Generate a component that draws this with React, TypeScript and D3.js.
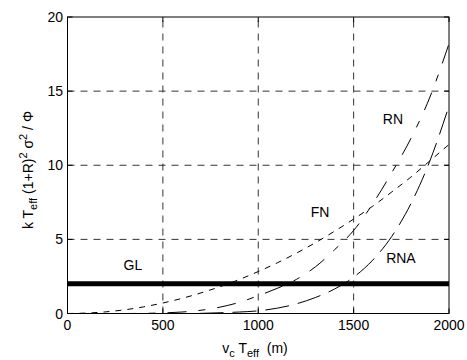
import React from "react";
import * as d3 from "d3";

const W = 467;
const H = 360;

const xTicks = [0, 500, 1000, 1500, 2000];
const yTicks = [0, 5, 10, 15, 20];
const xGrid = [500, 1000, 1500];
const yGrid = [5, 10, 15];

const vcTeff = [0, 100, 200, 300, 400, 500, 600, 700, 800, 900, 1000, 1100, 1200, 1300, 1400, 1500, 1600, 1700, 1800, 1900, 2000];
const fnValues = [0, 0.03, 0.11, 0.25, 0.45, 0.71, 1.02, 1.39, 1.81, 2.29, 2.83, 3.42, 4.07, 4.78, 5.55, 6.37, 7.24, 8.2, 9.2, 10.3, 11.4];
const rnValues = [0, 0, 0, 0, 0.01, 0.04, 0.1, 0.22, 0.43, 0.75, 1.2, 1.7, 2.3, 3.15, 4.3, 5.6, 7.4, 9.5, 11.8, 14.6, 18.2];
const rnaValues = [0, 0, 0, 0, 0, 0, 0, 0.01, 0.05, 0.1, 0.18, 0.36, 0.65, 1.08, 1.65, 2.45, 3.6, 5.2, 7.4, 10.3, 14.0];
const glLevel = 2;

const labels = [
  { text: "GL", v: 343, y: 3.27 },
  { text: "FN", v: 1324, y: 6.85 },
  { text: "RN", v: 1706, y: 13.1 },
  { text: "RNA", v: 1748, y: 3.74 },
];

const FONT = "'Liberation Sans', Arial, Helvetica, sans-serif";

export default function App() {
  const left = 67.5, right = 449, top = 17, bottom = 313.5;
  const x = d3.scaleLinear().domain([0, 2000]).range([left, right]);
  const y = d3.scaleLinear().domain([0, 20]).range([bottom, top]);

  const mk = (vals: number[]) =>
    d3
      .line<number>()
      .x((_, i) => x(vcTeff[i]))
      .y((d) => y(d))
      .curve(d3.curveMonotoneX)(vals) || "";

  const tickLen = 5;

  return (
    <svg
      width={W}
      height={H}
      style={{ position: "absolute", left: 0, top: 0, background: "#fff" }}
      fontFamily={FONT}
    >
      <defs>
        <clipPath id="plot">
          <rect x={left} y={top} width={right - left} height={bottom - top} />
        </clipPath>
      </defs>
      <rect x={0} y={0} width={W} height={H} fill="#fff" />
      {/* grid */}
      {xGrid.map((v) => (
        <line key={"gx" + v} x1={x(v)} x2={x(v)} y1={bottom} y2={top} stroke="#333" strokeWidth={1} strokeDasharray="7,6" />
      ))}
      {yGrid.map((v) => (
        <line key={"gy" + v} x1={left} x2={right} y1={y(v)} y2={y(v)} stroke="#333" strokeWidth={1} strokeDasharray="7,6" />
      ))}
      <g clipPath="url(#plot)">
        <path d={mk(fnValues)} fill="none" stroke="#000" strokeWidth={1} strokeDasharray="6,6" />
        <path d={mk(rnValues)} fill="none" stroke="#000" strokeWidth={1} strokeDasharray="19,12,7,12" />
        <path d={mk(rnaValues)} fill="none" stroke="#000" strokeWidth={1} strokeDasharray="24,9" />
        <line x1={left} x2={right} y1={y(glLevel)} y2={y(glLevel)} stroke="#000" strokeWidth={5} />
      </g>
      {/* box */}
      <rect x={left} y={top} width={right - left} height={bottom - top} fill="none" stroke="#000" strokeWidth={1} />
      {/* ticks */}
      {xTicks.map((v) => (
        <g key={"xt" + v}>
          <line x1={x(v)} x2={x(v)} y1={bottom} y2={bottom - tickLen} stroke="#000" />
          <line x1={x(v)} x2={x(v)} y1={top} y2={top + tickLen} stroke="#000" />
          <text x={x(v)} y={330} fontSize={14} textAnchor="middle">{v}</text>
        </g>
      ))}
      {yTicks.map((v) => (
        <g key={"yt" + v}>
          <line x1={left} x2={left + tickLen} y1={y(v)} y2={y(v)} stroke="#000" />
          <line x1={right} x2={right - tickLen} y1={y(v)} y2={y(v)} stroke="#000" />
          <text x={63} y={y(v) + 5} fontSize={14} textAnchor="end">{v}</text>
        </g>
      ))}
      {/* curve labels */}
      {labels.map((l) => (
        <text key={l.text} x={x(l.v)} y={y(l.y) + 5} fontSize={14} textAnchor="middle">{l.text}</text>
      ))}
      {/* x label */}
      <text x={255} y={353} fontSize={14} textAnchor="middle">
        <tspan>v</tspan>
        <tspan dy={4} fontSize={11}>c</tspan>
        <tspan dy={-4}> T</tspan>
        <tspan dy={4} fontSize={11}>eff</tspan>
        <tspan dy={-4}>{"\u00a0\u00a0(m)"}</tspan>
      </text>
      {/* y label */}
      <text transform="translate(33,170) rotate(-90)" fontSize={14} textAnchor="middle">
        <tspan>k T</tspan>
        <tspan dy={4} fontSize={11}>eff</tspan>
        <tspan dy={-4}> (1+R)</tspan>
        <tspan dy={-6} fontSize={11}>2</tspan>
        <tspan dy={6}> σ</tspan>
        <tspan dy={-6} fontSize={11}>2</tspan>
        <tspan dy={6}> / Φ</tspan>
      </text>
    </svg>
  );
}
